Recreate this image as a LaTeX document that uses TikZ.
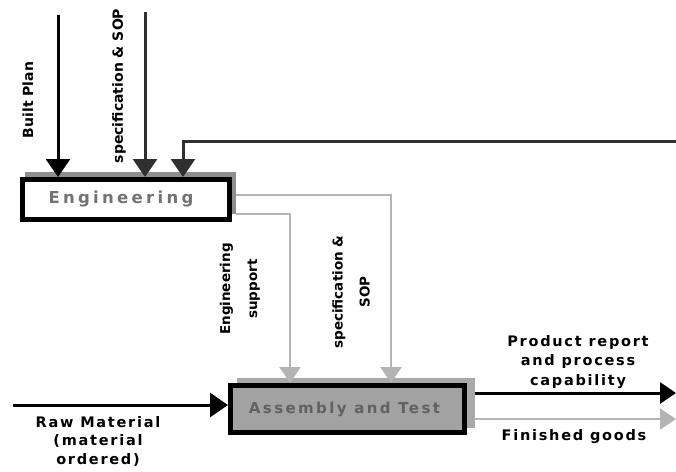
\documentclass[tikz,border=0pt]{standalone}
\usepackage{fontspec}
\setmainfont{DejaVu Sans}
\newfontfamily\spacedfont[LetterSpace=12]{DejaVu Sans}
\newfontfamily\engfont[LetterSpace=20]{DejaVu Sans}
\newfontfamily\asmfont[LetterSpace=16]{DejaVu Sans}
\usetikzlibrary{arrows.meta}

\definecolor{shadowgray}{HTML}{8E8E8E}
\definecolor{asmshadow}{HTML}{A9A9A9}
\definecolor{asmfill}{HTML}{A2A2A2}
\definecolor{flowgray}{HTML}{B4B4B4}
\definecolor{darkflow}{HTML}{303030}

\tikzset{
  procbox/.style={draw=black, line width=5pt, rectangle, inner sep=0pt},
  bigtip/.style={-{Triangle[width=24pt,length=18pt]}},
  midtip/.style={-{Triangle[width=21pt,length=16pt]}},
  blackflow/.style={draw=black, line width=3pt, bigtip},
  darkarrow/.style={draw=darkflow, line width=3pt, bigtip},
  grayflow/.style={draw=flowgray, line width=2.2pt, midtip},
  vlabel/.style={rotate=90, font=\bfseries\fontsize{14}{16}\selectfont, inner sep=0pt},
  midlabel/.style={rotate=90, font=\bfseries\fontsize{13.5}{27}\selectfont, align=center, inner sep=0pt},
  sidelabel/.style={font=\spacedfont\bfseries\fontsize{14.5}{19.5}\selectfont, align=center, inner sep=0pt}
}

\begin{document}
\begin{tikzpicture}[x=1pt, y=-1pt]
  \useasboundingbox (0,0) rectangle (676,471);

  % offset shadows behind the two process boxes
  \fill[shadowgray] (25,172) rectangle (236,214);
  \fill[asmshadow] (237,378) rectangle (475,428);

  % process boxes
  \node[procbox, fill=white, minimum width=207pt, minimum height=40pt,
        font=\engfont\bfseries\fontsize{16.5}{18}\selectfont, text=black!55]
        (eng) at (126,199.5) {Engineering\hspace*{10pt}};
  \node[procbox, fill=asmfill, minimum width=234pt, minimum height=47pt,
        font=\asmfont\bfseries\fontsize{15}{18}\selectfont, text=black!62]
        (asm) at (347.5,409) {Assembly and Test\hspace*{6pt}};

  % free ends of the connectors
  \coordinate (bpTop) at (58,15);
  \coordinate (specTop) at (145,12);
  \coordinate (fbEnd) at (676,141);
  \coordinate (fbDrop) at (183,141);
  \coordinate (supOut) at (236,214);
  \coordinate (supTurn) at (290,214);
  \coordinate (sopOut) at (236,195);
  \coordinate (sopTurn) at (391,195);
  \coordinate (rawStart) at (13,405);
  \coordinate (repStart) at (475,393);
  \coordinate (repEnd) at (676,393);
  \coordinate (fgStart) at (475,419);
  \coordinate (fgEnd) at (676,419);

  % inputs to Engineering
  \draw[blackflow] (bpTop) -- (bpTop |- eng.north);
  \draw[darkarrow] (specTop) -- (specTop |- eng.north);
  \draw[darkarrow] (fbEnd) -- (fbDrop) -- (fbDrop |- eng.north);

  % Engineering outputs into Assembly and Test
  \draw[grayflow] (supOut) -- (supTurn) -- (supTurn |- asm.north);
  \draw[grayflow] (sopOut) -- (sopTurn) -- (sopTurn |- asm.north);

  % Assembly and Test inputs and outputs
  \draw[blackflow] (rawStart) -- (rawStart -| asm.west);
  \draw[line width=3pt, draw=black, midtip] (repStart) -- (repEnd);
  \draw[grayflow] (fgStart) -- (fgEnd);

  % labels
  \node[vlabel] (lblBuilt) at (28,100) {Built Plan};
  \node[vlabel] (lblSpec) at (119,86) {specification \& SOP};
  \node[midlabel] (lblSupport) at (240,289) {Engineering\\support};
  \node[midlabel] (lblSop) at (351,292) {specification \&\\SOP};
  \node[sidelabel] (lblReport) at (578,362) {Product report\\and process\\capability};
  \node[sidelabel] (lblGoods) at (574,437) {Finished goods};
  \node[sidelabel, font=\spacedfont\bfseries\fontsize{14.5}{18.5}\selectfont]
        (lblRaw) at (98,441) {Raw Material\\(material\\ordered)};
\end{tikzpicture}
\end{document}
